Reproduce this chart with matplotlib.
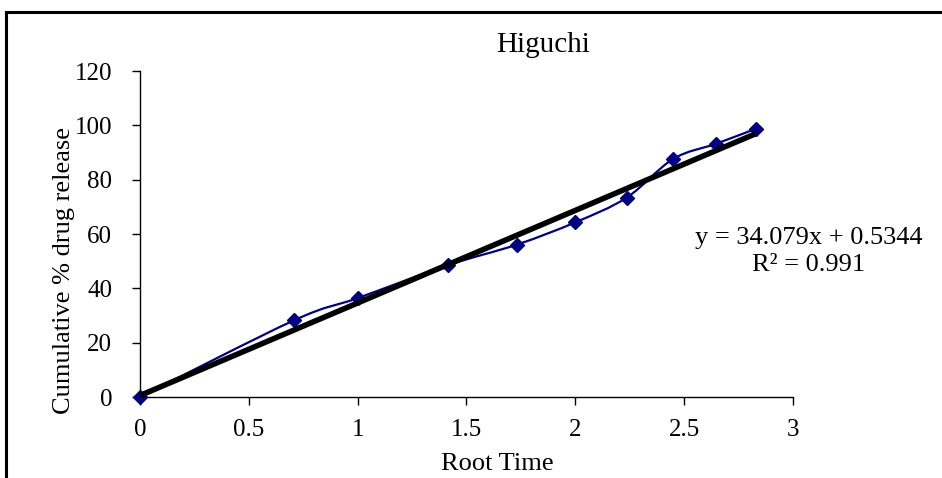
import matplotlib
matplotlib.use("Agg")
import matplotlib.pyplot as plt
from matplotlib.path import Path
from matplotlib.patches import PathPatch, Rectangle
import numpy as np

plt.rcParams['font.family'] = ['Liberation Serif', 'DejaVu Serif']

root_time = [0, 0.707, 1.0, 1.414, 1.732, 2.0, 2.236, 2.449, 2.646, 2.828]
release = [0, 28.2, 36.4, 48.5, 56.1, 64.3, 73.4, 87.6, 93.2, 98.7]
slope = 34.079
intercept = 0.5344
eq_text = "y = 34.079x + 0.5344"
r2_text = "R² = 0.991"
x_ticks = [0, 0.5, 1, 1.5, 2, 2.5, 3]
y_ticks = [0, 20, 40, 60, 80, 100, 120]

fig = plt.figure(figsize=(9.42, 4.78), dpi=100)
fig.patches.append(Rectangle((6/942, -0.05), 1.2, (478-12)/478 + 0.05,
                             transform=fig.transFigure, fill=False,
                             edgecolor='black', linewidth=2.2, zorder=0))

ax = fig.add_axes([140/942, (478-397)/478, (793-140)/942, (397-71)/478])
ax.set_xlim(0, 3)
ax.set_ylim(0, 120)

# smoothed series (Catmull-Rom style Bezier rendering, as Excel's smoothed line)
x = np.array(root_time); y = np.array(release)
verts = [(x[0], y[0])]
codes = [Path.MOVETO]
n = len(x)
for i in range(n - 1):
    p0 = np.array([x[i-1], y[i-1]]) if i > 0 else np.array([x[i], y[i]])
    p1 = np.array([x[i], y[i]])
    p2 = np.array([x[i+1], y[i+1]])
    p3 = np.array([x[i+2], y[i+2]]) if i + 2 < n else p2
    c1 = p1 + (p2 - p0) / 6.0
    c2 = p2 - (p3 - p1) / 6.0
    verts += [tuple(c1), tuple(c2), tuple(p2)]
    codes += [Path.CURVE4] * 3
ax.add_patch(PathPatch(Path(verts, codes), fill=False, edgecolor='#000080',
                       linewidth=1.6, zorder=3, clip_on=False))
ax.plot(root_time, release, linestyle='none', marker='D', markersize=7,
        color='#000080', zorder=4, clip_on=False)

# linear trendline
tx = np.array([root_time[0], root_time[-1]])
ax.plot(tx, slope * tx + intercept, color='black', linewidth=4,
        solid_capstyle='butt', zorder=5, clip_on=False)

for s in ['top', 'right']:
    ax.spines[s].set_visible(False)
for s in ['left', 'bottom']:
    ax.spines[s].set_linewidth(1.0)
ax.set_xticks(x_ticks)
ax.set_xticklabels([f"{t:g}" for t in x_ticks])
ax.set_yticks(y_ticks)
ax.set_yticklabels([str(t) for t in y_ticks])
ax.tick_params(direction='out', length=6, width=1, labelsize=18)
ax.tick_params(axis='y', pad=14)
ax.tick_params(axis='x', pad=10)

fig.text(543/942, 1 - 45/478, "Higuchi", ha='center', va='center', fontsize=21)
fig.text(497/942, 1 - 464/478, "Root Time", ha='center', va='center', fontsize=19)
fig.text(64/942, 1 - 270/478, "Cumulative % drug release", ha='center', va='center',
         rotation=90, fontsize=19)
fig.text(809/942, 1 - 238/478, eq_text, ha='center', va='center', fontsize=19)
fig.text(809/942, 1 - 265/478, r2_text, ha='center', va='center', fontsize=19)

fig.savefig("out.png", dpi=100)
